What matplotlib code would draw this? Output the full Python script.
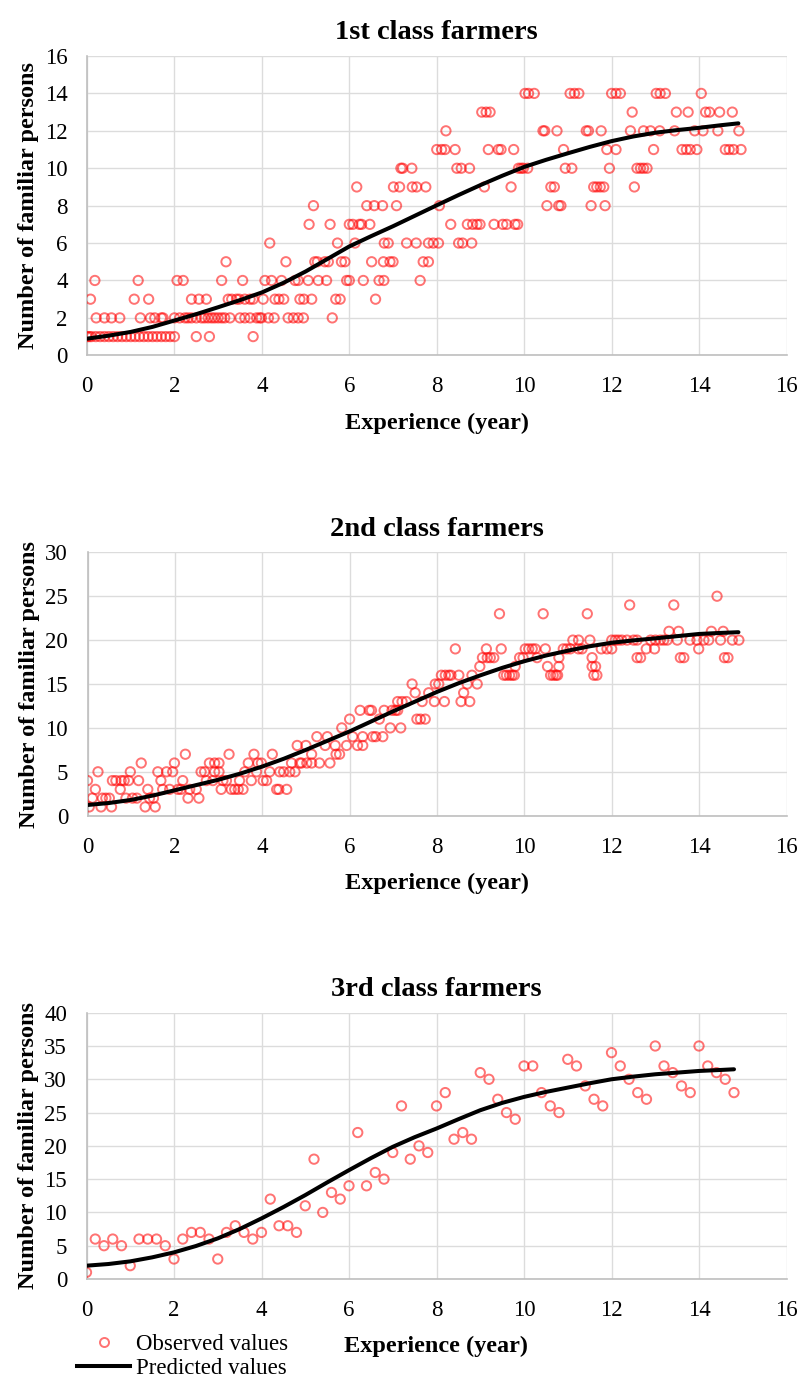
import matplotlib
matplotlib.use("Agg")
import matplotlib.pyplot as plt
from matplotlib.lines import Line2D

# ---------------- 1st class farmers ----------------
exp1 = [0.0, 0.05, 0.1, 0.2, 0.3, 0.4, 0.5, 0.6, 0.7, 0.8, 0.9, 1.0, 1.1, 1.2, 1.3, 1.4, 1.5, 1.6, 1.7, 1.8, 1.9, 2.0, 2.5, 2.8, 3.8,
        0.21, 0.40, 0.56, 0.75, 1.22, 1.45, 1.55, 1.7, 1.74, 2.0, 2.12, 2.24, 2.31, 2.39, 2.5, 2.62, 2.69, 2.77, 2.85, 2.92, 3.0, 3.08, 3.15, 3.27, 3.5, 3.61, 3.73, 3.88, 3.95, 3.99, 4.15, 4.28, 4.6, 4.72, 4.83, 4.95, 5.61,
        0.08, 1.08, 1.41, 2.39, 2.56, 2.73, 3.23, 3.31, 3.42, 3.48, 3.61, 3.73, 3.8, 4.03, 4.3, 4.39, 4.5, 4.87, 4.96, 5.14, 5.69, 5.79, 6.6,
        0.18, 1.17, 2.06, 2.2, 3.08, 3.56, 4.07, 4.22, 4.45, 4.76, 4.83, 5.06, 5.29, 5.48, 5.94, 6.0, 6.32, 6.68, 6.79, 7.62,
        3.18, 4.55, 5.21, 5.27, 5.44, 5.52, 5.82, 5.9, 6.51, 6.78, 6.93, 7.0, 7.69, 7.81,
        4.18, 5.73, 6.13, 6.8, 6.89, 7.31, 7.53, 7.81, 7.92, 8.04, 8.5, 8.59, 8.8,
        5.08, 5.56, 6.0, 6.08, 6.23, 6.28, 6.47, 8.32, 8.7, 8.82, 8.92, 8.99, 9.31, 9.51, 9.6, 9.79, 9.85,
        5.18, 6.4, 6.57, 6.76, 7.08, 8.06, 10.52, 10.79, 10.84, 11.53, 11.85,
        6.17, 7.01, 7.15, 7.44, 7.54, 7.75, 9.09, 9.7, 10.61, 10.69, 11.59, 11.66, 11.74, 11.82, 12.52,
        7.18, 7.22, 7.43, 8.46, 8.56, 8.75, 9.87, 9.93, 9.98, 10.08, 10.94, 11.09, 11.95, 12.58, 12.66, 12.73, 12.81,
        8.0, 8.11, 8.19, 8.42, 9.18, 9.41, 9.47, 9.76, 10.9, 11.89, 12.1, 12.96, 13.61, 13.71, 13.8, 13.95, 14.6, 14.69, 14.79, 14.96,
        8.21, 10.43, 10.47, 10.75, 11.42, 11.47, 11.76, 12.43, 12.73, 12.89, 13.1, 13.44, 13.9, 14.09, 14.43, 14.91,
        9.03, 9.13, 9.22, 12.47, 13.48, 13.75, 14.15, 14.24, 14.47, 14.76,
        10.02, 10.1, 10.23, 11.05, 11.15, 11.25, 12.0, 12.1, 12.2, 13.02, 13.11, 13.23, 14.05]
fam1 = ([1] * 25 + [2] * 37 + [3] * 23 + [4] * 20 + [5] * 14 + [6] * 13 + [7] * 17 + [8] * 11
        + [9] * 15 + [10] * 17 + [11] * 20 + [12] * 16 + [13] * 10 + [14] * 13)

# ---------------- 2nd class farmers ----------------
exp2 = [0.04, 0.31, 0.55, 1.32, 1.55,
        0.11, 0.34, 0.42, 0.5, 0.88, 1.03, 1.13, 1.42, 1.51, 2.3, 2.55,
        0.18, 0.75, 1.38, 1.72, 1.88, 2.07, 2.14, 2.34, 2.49, 3.06, 3.29, 3.37, 3.45, 3.56, 4.33, 4.38, 4.56,
        0.0, 0.57, 0.65, 0.77, 0.84, 0.94, 1.17, 1.68, 2.18, 2.72, 2.87, 3.1, 3.18, 3.48, 3.75, 4.02, 4.1,
        0.24, 0.98, 1.61, 1.81, 1.95, 2.6, 2.68, 2.91, 3.01, 3.6, 3.87, 4.17, 4.4, 4.49, 4.63, 4.75,
        1.23, 1.99, 2.79, 2.91, 3.01, 3.68, 3.9, 3.98, 4.67, 4.86, 4.9, 5.02, 5.13, 5.31, 5.55,
        2.24, 3.24, 3.81, 4.23, 5.13, 5.69, 5.77,
        4.8, 5.0, 5.44, 5.67, 5.93, 6.18, 6.3,
        5.25, 5.49, 6.07, 6.3, 6.53, 6.6, 6.76,
        5.82, 6.93, 7.17,
        6.0, 6.68, 7.54, 7.62, 7.73,
        6.24, 6.45, 6.5, 6.79, 6.97, 7.05, 7.1,
        7.1, 7.2, 7.3, 7.66, 7.94, 8.17, 8.55, 8.75,
        7.5, 7.81, 8.61,
        7.43, 7.96, 8.04, 8.69, 8.92,
        8.1, 8.19, 8.27, 8.32, 8.5, 8.8, 9.53, 9.59, 9.66, 9.72, 9.77, 10.6, 10.66, 10.72, 10.76, 11.59, 11.66,
        8.98, 9.79, 10.53, 10.79, 11.55, 11.63,
        9.04, 9.15, 9.22, 9.3, 9.89, 9.97, 10.29, 10.79, 11.55, 12.58, 12.66, 13.57, 13.65, 14.58, 14.66,
        8.42, 9.13, 9.47, 10.02, 10.1, 10.18, 10.25, 10.48, 10.89, 10.97, 11.05, 11.24, 11.32, 11.76, 11.89, 12.0, 12.79, 12.98, 13.99,
        11.11, 11.24, 11.5, 12.0, 12.08, 12.15, 12.23, 12.35, 12.5, 12.58, 12.89, 13.0, 13.11, 13.19, 13.27, 13.5, 13.79, 13.95, 14.11, 14.22, 14.49, 14.76, 14.91,
        13.31, 13.53, 14.28, 14.55,
        9.43, 10.43, 11.44,
        12.41, 13.42,
        14.41]
fam2 = ([1] * 5 + [2] * 11 + [3] * 17 + [4] * 17 + [5] * 16 + [6] * 15 + [7] * 7 + [8] * 7
        + [9] * 7 + [10] * 3 + [11] * 5 + [12] * 7 + [13] * 8 + [14] * 3 + [15] * 5 + [16] * 17
        + [17] * 6 + [18] * 15 + [19] * 19 + [20] * 23 + [21] * 4 + [23] * 3 + [24] * 2 + [25] * 1)

# ---------------- 3rd class farmers ----------------
exp3 = [0.0, 0.2, 0.4, 0.6, 0.8, 1.0, 1.2, 1.4, 1.6, 1.8, 2.0, 2.2, 2.4, 2.6, 2.8, 3.0, 3.2, 3.4, 3.6, 3.8,
        4.0, 4.2, 4.4, 4.6, 4.8, 5.0, 5.2, 5.4, 5.6, 5.8, 6.0, 6.2, 6.4, 6.6, 6.8, 7.0, 7.2, 7.4, 7.6, 7.8,
        8.0, 8.2, 8.4, 8.6, 8.8, 9.0, 9.2, 9.4, 9.6, 9.8, 10.0, 10.2, 10.4, 10.6, 10.8, 11.0, 11.2, 11.4, 11.6, 11.8,
        12.0, 12.2, 12.4, 12.6, 12.8, 13.0, 13.2, 13.4, 13.6, 13.8, 14.0, 14.2, 14.4, 14.6, 14.8]
fam3 = [1, 6, 5, 6, 5, 2, 6, 6, 6, 5, 3, 6, 7, 7, 6, 3, 7, 8, 7, 6,
        7, 12, 8, 8, 7, 11, 18, 10, 13, 12, 14, 22, 14, 16, 15, 19, 26, 18, 20, 19,
        26, 28, 21, 22, 21, 31, 30, 27, 25, 24, 32, 32, 28, 26, 25, 33, 32, 29, 27, 26,
        34, 32, 30, 28, 27, 35, 32, 31, 29, 28, 35, 32, 31, 30, 28]

# ---------------- predicted curves (read every half year) ----------------
pred_x12 = [0, 0.5, 1, 1.5, 2, 2.5, 3, 3.5, 4, 4.5, 5, 5.5, 6, 6.5, 7, 7.5, 8, 8.5, 9, 9.5,
            10, 10.5, 11, 11.5, 12, 12.5, 13, 13.5, 14, 14.5, 14.9]
pred1 = [0.89, 1.05, 1.25, 1.52, 1.86, 2.2, 2.57, 2.95, 3.36, 3.88, 4.48, 5.15, 5.82, 6.37, 6.9, 7.46,
         8.02, 8.57, 9.1, 9.6, 10.07, 10.45, 10.8, 11.14, 11.45, 11.7, 11.9, 12.04, 12.16, 12.3, 12.4]
pred2 = [1.22, 1.45, 1.8, 2.3, 2.9, 3.5, 4.1, 4.8, 5.6, 6.5, 7.5, 8.55, 9.6, 10.75, 11.9, 13.0,
         14.1, 15.1, 16.0, 16.85, 17.6, 18.25, 18.8, 19.3, 19.7, 19.97, 20.2, 20.45, 20.7, 20.82, 20.9]
pred_x3 = [0, 0.5, 1, 1.5, 2, 2.5, 3, 3.5, 4, 4.5, 5, 5.5, 6, 6.5, 7, 7.5, 8, 8.5, 9, 9.5,
           10, 10.5, 11, 11.5, 12, 12.5, 13, 13.5, 14, 14.5, 14.8]
pred3 = [2.0, 2.25, 2.65, 3.25, 4.0, 4.95, 6.1, 7.5, 9.1, 10.8, 12.6, 14.5, 16.35, 18.15, 19.85, 21.3,
         22.6, 24.0, 25.35, 26.45, 27.35, 28.1, 28.75, 29.4, 30.0, 30.4, 30.75, 31.0, 31.25, 31.4, 31.5]

titles = ["1st class farmers", "2nd class farmers", "3rd class farmers"]
y_limits = [(0, 16, 2), (0, 30, 5), (0, 40, 5)]
x_ticks = [0, 2, 4, 6, 8, 10, 12, 14, 16]

plt.rcParams["font.family"] = ["Liberation Serif", "DejaVu Serif"]

W, H = 801, 1379
fig = plt.figure(figsize=(W / 100, H / 100), dpi=100)

# axes boxes in pixels: left, right, top, bottom
boxes = [(87, 786.5, 56, 355.3), (87.5, 786.5, 552.3, 815.7), (86.5, 786.5, 1012.7, 1279)]

panels = [(exp1, fam1, pred_x12, pred1), (exp2, fam2, pred_x12, pred2), (exp3, fam3, pred_x3, pred3)]

grid_col = "#dcdcdc"
axis_col = "#bfbfbf"
obs_col = (1, 0, 0, 0.55)
tick_fs = 16.5
label_fs = 17.5

for (l, r, t, b), (ex, fa, px, py), title, (y0, y1, ystep) in zip(boxes, panels, titles, y_limits):
    ax = fig.add_axes([l / W, 1 - b / H, (r - l) / W, (b - t) / H])
    ax.scatter(ex, fa, s=45, facecolors="none", edgecolors=obs_col, linewidths=1.4,
               zorder=3, label="Observed values")
    ax.plot(px, py, color="black", lw=2.9, solid_capstyle="round", solid_joinstyle="round",
            zorder=4, label="Predicted values")
    ax.set_xlim(0, 16)
    ax.set_ylim(y0, y1)
    ax.set_xticks(x_ticks)
    ax.set_yticks(list(range(y0, y1 + 1, ystep)))
    ax.grid(True, color=grid_col, lw=1.0, zorder=0)
    ax.set_axisbelow(True)
    for side in ("top", "right"):
        ax.spines[side].set_visible(False)
    for side in ("left", "bottom"):
        ax.spines[side].set_color(axis_col)
        ax.spines[side].set_linewidth(1.2)
    ax.tick_params(axis="both", length=0, labelsize=tick_fs, colors="black")
    ax.tick_params(axis="x", pad=15)
    ax.tick_params(axis="y", pad=14)
    ax.set_title(title, fontsize=20.5, fontweight="bold", pad=12)
    ax.set_xlabel("Experience (year)", fontsize=label_fs, fontweight="bold", labelpad=11)
    ax.set_ylabel("Number of familiar persons", fontsize=label_fs, fontweight="bold", labelpad=4)

handles = [Line2D([], [], ls="none", marker="o", markersize=6.5, markerfacecolor="none",
                  markeredgecolor=obs_col, markeredgewidth=1.4),
           Line2D([], [], color="black", lw=2.9)]
fig.legend(handles, ["Observed values", "Predicted values"], loc="upper left",
           bbox_to_anchor=(66 / W, 1 - 1323 / H), frameon=False, fontsize=tick_fs,
           handlelength=2.3, handletextpad=0.25, labelspacing=0.12, borderpad=0)

fig.savefig("out.png", dpi=100)
